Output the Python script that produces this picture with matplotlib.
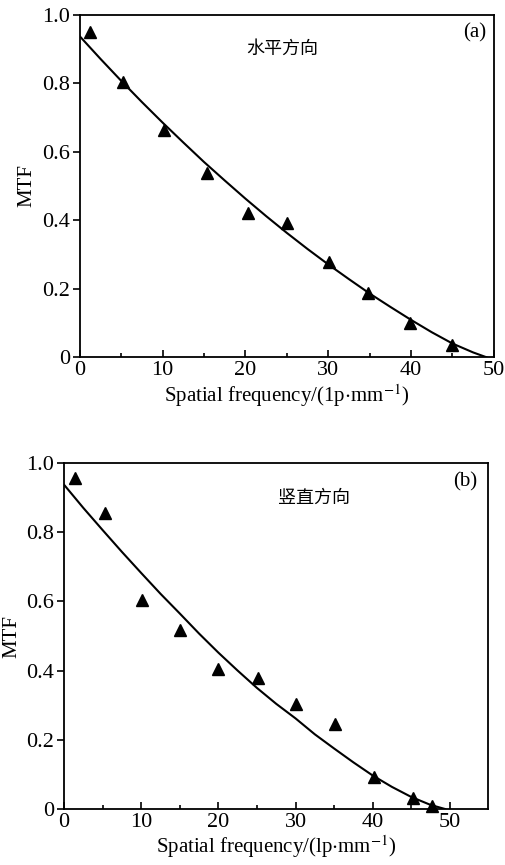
import matplotlib.pyplot as plt
import numpy as np

plt.rcParams['font.family'] = ['Liberation Serif', 'Noto Sans CJK SC']
plt.rcParams['mathtext.fontset'] = 'stix'

# (a) horizontal direction
freq_a = [1.2, 5.2, 10.2, 15.3, 20.3, 25.0, 30.1, 34.8, 39.9, 44.9]
mtf_a = [0.949, 0.805, 0.664, 0.539, 0.421, 0.393, 0.279, 0.189, 0.101, 0.036]
fit_x_a = [0, 2.5, 5, 7.5, 10, 12.5, 15, 17.5, 20, 22.5, 25, 27.5, 30, 32.5, 35, 37.5, 40, 42.5, 45, 47.5, 49.1]
fit_y_a = [0.937, 0.871, 0.807, 0.745, 0.685, 0.627, 0.570, 0.516, 0.463, 0.412, 0.363, 0.316, 0.271,
           0.228, 0.186, 0.147, 0.109, 0.073, 0.040, 0.014, 0.0]

# (b) vertical direction
freq_b = [1.4, 5.3, 10.1, 15.0, 20.0, 25.1, 30.1, 35.1, 40.2, 45.2, 47.7]
mtf_b = [0.957, 0.857, 0.605, 0.518, 0.405, 0.379, 0.304, 0.247, 0.092, 0.032, 0.008]
fit_x_b = [0, 2.5, 5, 7.5, 10, 12.5, 15, 17.5, 20, 22.5, 25, 27.5, 30, 32.5, 35, 37.5, 40, 42.5, 45, 47.5, 49.4]
fit_y_b = [0.937, 0.870, 0.806, 0.743, 0.682, 0.622, 0.565, 0.507, 0.452, 0.400, 0.350, 0.304, 0.262,
           0.216, 0.175, 0.135, 0.097, 0.064, 0.035, 0.012, 0.0]

yticks = [0, 0.2, 0.4, 0.6, 0.8, 1.0]
ytick_labels = ['0', '0.2', '0.4', '0.6', '0.8', '1.0']

fig = plt.figure(figsize=(5.05, 8.65), dpi=100)
ax1 = fig.add_axes([0.158, 0.587, 0.820, 0.396])
ax2 = fig.add_axes([0.127, 0.0647, 0.840, 0.400])


def style(ax, xmax, xlabel):
    ax.set_xlim(0, xmax)
    ax.set_ylim(0, 1.0)
    ax.set_xticks(np.arange(0, 51, 10))
    ax.set_xticks(np.arange(5, xmax, 10), minor=True)
    ax.set_yticks(yticks)
    ax.set_yticklabels(ytick_labels)
    ax.tick_params(axis='x', which='major', direction='in', length=5, width=1.2, labelsize=16, pad=3)
    ax.tick_params(axis='x', which='minor', direction='in', length=3, width=1.2)
    ax.tick_params(axis='y', direction='out', length=5, width=1.2, labelsize=16, pad=2)
    for s in ax.spines.values():
        s.set_linewidth(1.3)
    ax.set_xlabel(xlabel, fontsize=15, labelpad=1)
    ax.set_ylabel('MTF', fontsize=15, labelpad=4)


ax1.plot(fit_x_a, fit_y_a, color='black', linewidth=1.5)
ax1.plot(freq_a, mtf_a, linestyle='none', marker='^', color='black', markersize=9, clip_on=False)
style(ax1, 50, r'Spatial frequency/(1p$\cdot$mm$^{-1}$)')
ax1.text(24.4, 0.90, '水平方向', fontsize=13, ha='center', va='center', family=['Noto Sans CJK SC'])
ax1.text(47.7, 0.947, '(a)', fontsize=15, ha='center', va='center')

ax2.plot(fit_x_b, fit_y_b, color='black', linewidth=1.5)
ax2.plot(freq_b, mtf_b, linestyle='none', marker='^', color='black', markersize=9, clip_on=False)
style(ax2, 55, r'Spatial frequency/(lp$\cdot$mm$^{-1}$)')
ax2.text(32.4, 0.90, '竖直方向', fontsize=13, ha='center', va='center', family=['Noto Sans CJK SC'])
ax2.text(52.0, 0.945, '(b)', fontsize=15, ha='center', va='center')

plt.savefig('out.png', dpi=100)
